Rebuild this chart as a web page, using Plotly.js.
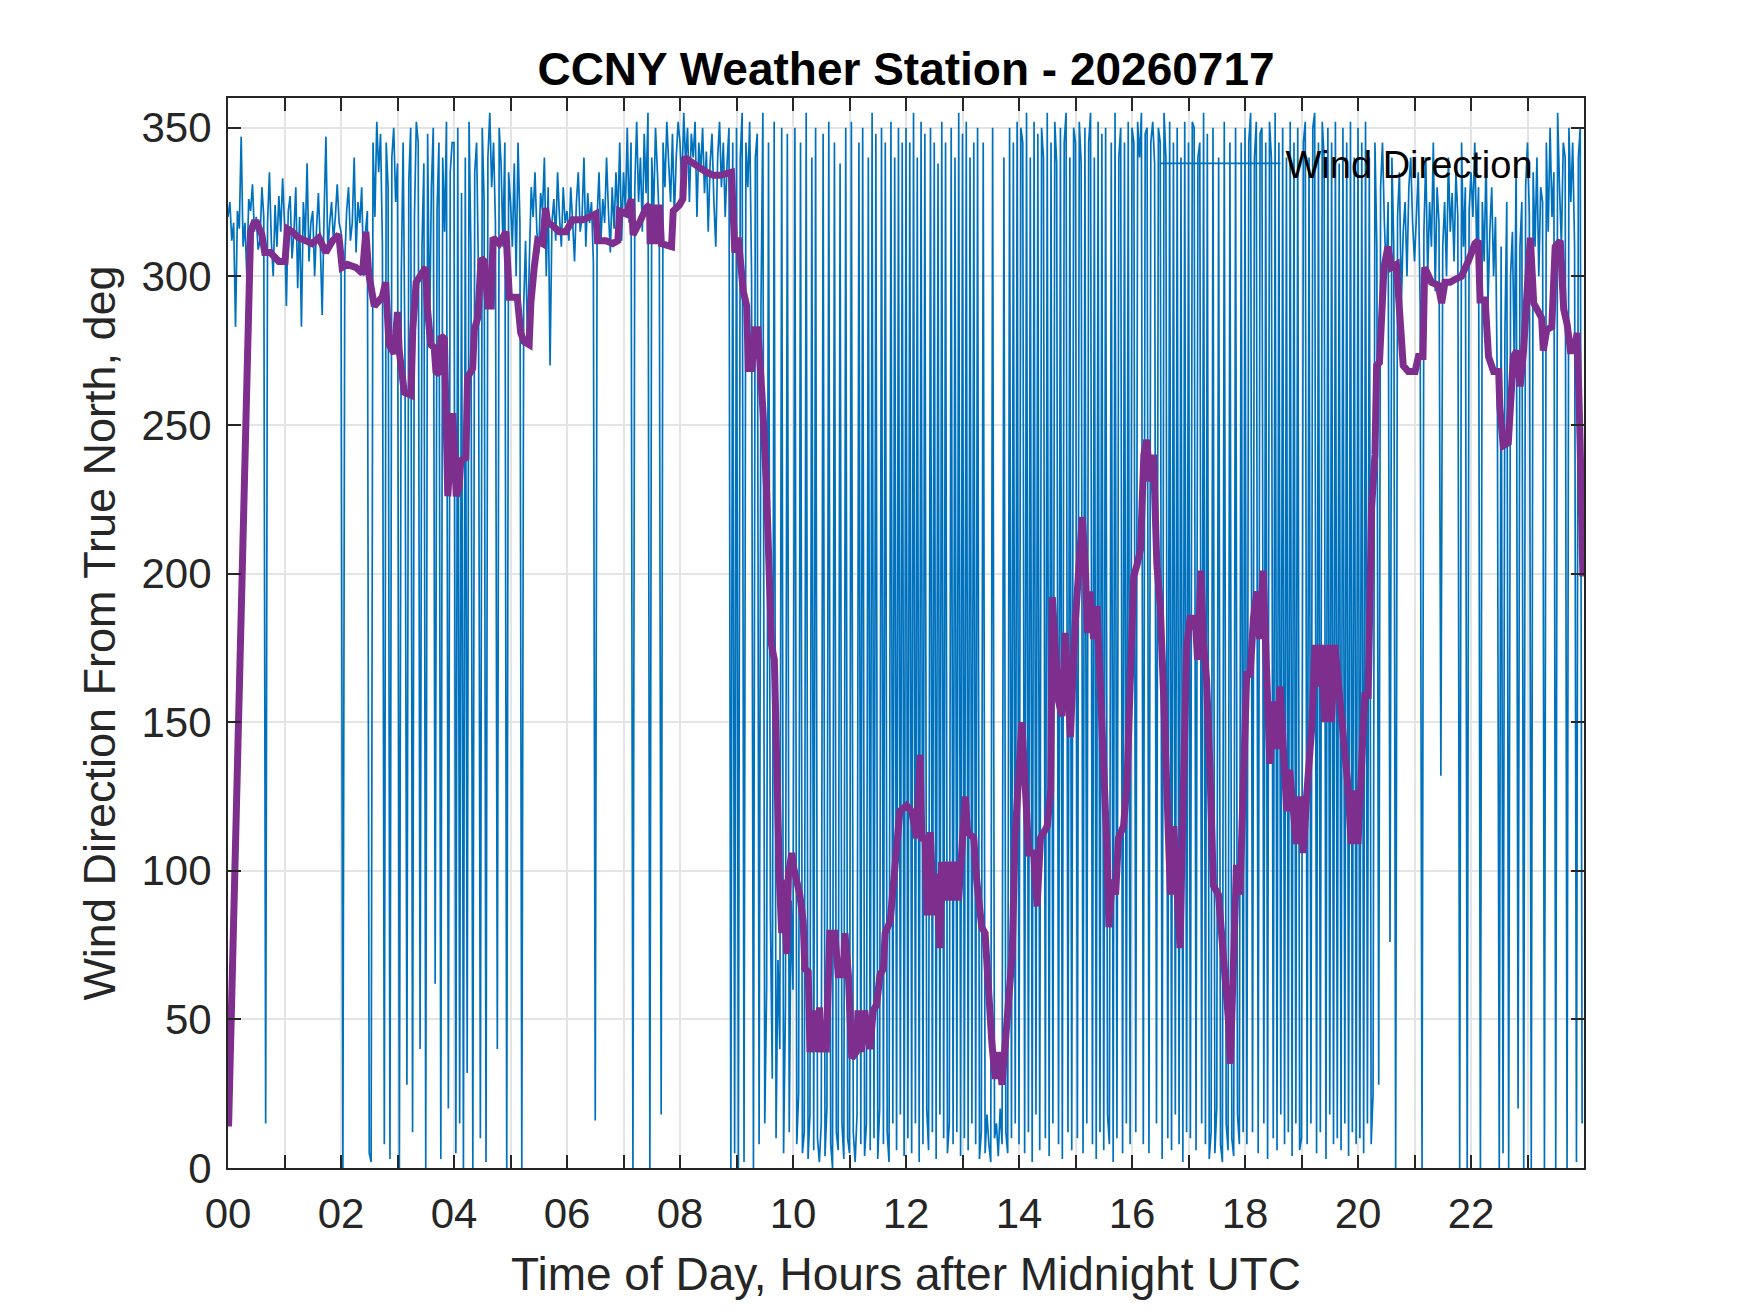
<!DOCTYPE html>
<html>
<head>
<meta charset="utf-8">
<script src="https://cdn.plot.ly/plotly-3.0.1.min.js"></script>
<style>
  html, body { margin: 0; padding: 0; background: #fff; }
  #chart { width: 1750px; height: 1313px; }
</style>
</head>
<body>
<div id="chart"></div>
<script>
// wind direction (deg from true north), one row per hour, samples every 2 minutes
var windDirByHour = [
  [320, 325, 312, 318, 283, 322, 316, 347, 310, 318, 300, 326, 322, 331, 315, 320, 309, 312, 330, 320, 15, 318, 335, 312, 300, 324, 310, 327, 315, 333],
  [318, 290, 322, 327, 306, 315, 330, 296, 320, 283, 325, 312, 338, 305, 318, 322, 300, 316, 328, 311, 287, 320, 347, 308, 318, 325, 312, 320, 331, 318],
  [315, 0, 305, 322, 330, 312, 318, 340, 308, 325, 318, 330, 300, 315, 322, 5, 2, 345, 320, 352, 335, 348, 310, 8, 345, 330, 3, 340, 350, 325],
  [338, 0, 300, 345, 270, 28, 332, 350, 12, 320, 352, 345, 40, 310, 338, 0, 348, 280, 330, 350, 62, 322, 345, 3, 340, 315, 352, 20, 335, 345],
  [345, 5, 350, 15, 328, 0, 340, 32, 352, 308, 0, 335, 345, 300, 10, 350, 325, 2, 340, 355, 330, 345, 318, 40, 350, 338, 310, 345, 0, 335],
  [325, 310, 338, 300, 345, 318, 0, 290, 312, 278, 305, 330, 320, 335, 315, 308, 328, 322, 340, 300, 330, 270, 318, 326, 312, 335, 320, 310, 330, 318],
  [322, 312, 330, 318, 305, 325, 335, 315, 320, 340, 310, 328, 318, 325, 305, 16, 320, 335, 312, 326, 318, 340, 322, 308, 330, 316, 335, 320, 345, 312],
  [335, 322, 350, 318, 345, 0, 330, 352, 325, 340, 315, 348, 328, 355, 0, 340, 322, 350, 335, 318, 18, 345, 330, 352, 338, 325, 348, 320, 340, 352],
  [345, 330, 355, 338, 350, 325, 348, 340, 352, 320, 345, 335, 350, 328, 342, 315, 338, 348, 325, 310, 340, 352, 330, 345, 320, 338, 350, 0, 345, 5],
  [350, 0, 340, 355, 2, 345, 330, 352, 300, 0, 340, 348, 8, 290, 355, 15, 60, 345, 85, 30, 352, 10, 70, 40, 350, 5, 55, 348, 12, 90],
  [60, 350, 8, 25, 345, 5, 12, 355, 3, 18, 340, 6, 350, 10, 2, 15, 348, 4, 20, 352, 8, 0, 345, 12, 6, 338, 15, 3, 350, 10],
  [5, 352, 12, 2, 18, 345, 8, 350, 4, 15, 340, 6, 355, 10, 348, 3, 20, 350, 8, 345, 12, 2, 352, 15, 340, 6, 350, 18, 345, 4],
  [350, 10, 345, 5, 355, 15, 340, 2, 352, 8, 348, 20, 6, 350, 12, 345, 3, 338, 18, 352, 10, 345, 5, 15, 350, 8, 340, 12, 355, 4],
  [348, 10, 352, 6, 340, 15, 345, 8, 350, 3, 12, 345, 5, 18, 8, 2, 350, 10, 15, 4, 20, 8, 340, 12, 5, 350, 10, 345, 15, 352],
  [8, 350, 345, 5, 355, 12, 340, 2, 352, 18, 348, 6, 350, 340, 10, 355, 4, 345, 15, 352, 338, 8, 350, 3, 345, 355, 12, 340, 6, 350],
  [345, 10, 352, 338, 5, 350, 15, 345, 355, 8, 340, 3, 352, 12, 348, 6, 350, 18, 8, 345, 2, 355, 10, 340, 350, 5, 345, 15, 352, 8],
  [350, 345, 12, 352, 340, 355, 8, 348, 350, 5, 345, 352, 338, 15, 350, 345, 3, 355, 340, 10, 352, 6, 345, 18, 350, 8, 340, 2, 352, 12],
  [345, 10, 352, 350, 6, 340, 345, 15, 355, 8, 348, 3, 12, 350, 5, 20, 340, 8, 2, 352, 15, 6, 345, 10, 4, 350, 18, 8, 345, 12],
  [350, 8, 345, 355, 12, 340, 352, 5, 348, 350, 15, 345, 3, 352, 340, 10, 355, 6, 345, 18, 350, 8, 340, 12, 352, 4, 345, 15, 350, 6],
  [10, 345, 352, 8, 340, 15, 350, 355, 5, 345, 12, 352, 340, 3, 350, 18, 345, 8, 352, 10, 338, 6, 350, 15, 345, 4, 352, 12, 340, 8],
  [350, 10, 345, 5, 352, 15, 340, 8, 25, 345, 310, 28, 330, 345, 318, 300, 325, 76, 340, 310, 0, 320, 335, 290, 315, 325, 300, 330, 340, 318],
  [305, 320, 335, 290, 0, 315, 340, 300, 325, 310, 345, 295, 330, 318, 132, 310, 325, 300, 340, 315, 328, 305, 335, 320, 0, 345, 310, 330, 0, 322],
  [335, 320, 345, 310, 330, 0, 325, 305, 340, 290, 315, 330, 300, 320, 260, 0, 310, 5, 280, 325, 0, 300, 315, 270, 340, 20, 310, 325, 0, 330],
  [345, 320, 0, 335, 310, 340, 300, 330, 325, 0, 345, 315, 350, 320, 335, 0, 355, 330, 310, 345, 340, 0, 350, 325, 345, 310, 2, 340, 350, 15]
];

// smoothed direction (purple), hours and values
var smoothHours = [
  0.01, 0.40, 0.46, 0.51, 0.60, 0.65, 0.75, 0.90,
  1.01, 1.05, 1.14, 1.25, 1.37, 1.49, 1.61, 1.73, 1.85, 1.96,
  2.02, 2.11, 2.26, 2.38, 2.44, 2.49, 2.59, 2.73, 2.79, 2.85, 2.94,
  3.00, 3.03, 3.09, 3.12, 3.24, 3.27, 3.33, 3.44, 3.50, 3.53, 3.59, 3.65, 3.68, 3.74, 3.77, 3.83, 3.86, 3.89, 3.98,
  4.04, 4.09, 4.12, 4.21, 4.24, 4.33, 4.36, 4.42, 4.48, 4.54, 4.60, 4.66, 4.69, 4.80, 4.92, 4.98,
  5.12, 5.18, 5.24, 5.33, 5.36, 5.42, 5.48, 5.57, 5.62, 5.66, 5.75, 5.86, 5.98,
  6.10, 6.28, 6.40, 6.51, 6.54, 6.69, 6.81, 6.90, 6.93,
  7.05, 7.14, 7.17, 7.28, 7.40, 7.46, 7.47, 7.55, 7.58, 7.64, 7.67, 7.85, 7.88, 7.99,
  8.05, 8.08, 8.23, 8.35, 8.47, 8.59, 8.70, 8.91, 8.94, 8.97,
  9.03, 9.09, 9.12, 9.18, 9.21, 9.27, 9.33, 9.38, 9.41, 9.47, 9.53, 9.62, 9.67, 9.71, 9.76, 9.80, 9.83, 9.89, 9.92, 9.98,
  10.00, 10.06, 10.12, 10.18, 10.21, 10.27, 10.30, 10.38, 10.44, 10.47, 10.50, 10.59, 10.65, 10.74, 10.80, 10.89, 10.92, 10.98,
  11.04, 11.12, 11.15, 11.21, 11.27, 11.36, 11.42, 11.48, 11.54, 11.60, 11.63, 11.72, 11.80, 11.89,
  12.01, 12.10, 12.19, 12.25, 12.28, 12.34, 12.37, 12.43, 12.49, 12.54, 12.60, 12.63, 12.69, 12.75, 12.81, 12.87, 12.93, 12.99,
  13.05, 13.09, 13.20, 13.25, 13.34, 13.40, 13.46, 13.52, 13.58, 13.64, 13.70, 13.76, 13.82, 13.88, 13.93, 13.99,
  14.05, 14.11, 14.17, 14.26, 14.32, 14.38, 14.44, 14.50, 14.56, 14.59, 14.64, 14.70, 14.76, 14.82, 14.88, 14.91, 14.99,
  15.06, 15.12, 15.18, 15.21, 15.26, 15.32, 15.38, 15.44, 15.50, 15.56, 15.59, 15.65, 15.71, 15.76, 15.85, 15.91, 15.97,
  16.03, 16.09, 16.15, 16.21, 16.26, 16.32, 16.38, 16.44, 16.50, 16.56, 16.62, 16.68, 16.74, 16.79, 16.85, 16.91, 16.97,
  17.03, 17.12, 17.16, 17.22, 17.26, 17.32, 17.38, 17.44, 17.53, 17.59, 17.65, 17.71, 17.74, 17.79, 17.85, 17.91, 17.97,
  18.03, 18.09, 18.15, 18.21, 18.26, 18.32, 18.38, 18.44, 18.50, 18.56, 18.62, 18.68, 18.74, 18.79, 18.85, 18.91, 18.97,
  19.03, 19.09, 19.18, 19.24, 19.29, 19.35, 19.41, 19.47, 19.53, 19.59, 19.65, 19.71, 19.76, 19.82, 19.88, 19.94,
  20.00, 20.06, 20.12, 20.18, 20.24, 20.30, 20.33, 20.38, 20.41, 20.46, 20.53, 20.59, 20.68, 20.74, 20.80, 20.89,
  21.01, 21.07, 21.15, 21.18, 21.30, 21.42, 21.48, 21.54, 21.63, 21.72, 21.83, 21.95,
  22.07, 22.13, 22.16, 22.25, 22.31, 22.40, 22.49, 22.51, 22.57, 22.66, 22.69, 22.75, 22.81, 22.87, 22.93, 22.99,
  23.05, 23.11, 23.17, 23.25, 23.28, 23.34, 23.43, 23.49, 23.58, 23.64, 23.70, 23.76, 23.82, 23.88, 23.93, 23.98
];
var smoothDir = [
  14, 315, 318, 318, 314, 308, 308, 305,
  305, 316, 315, 313, 312, 311, 313, 308, 312, 314,
  303, 304, 303, 301, 315, 301, 290, 293, 298, 277, 274,
  288, 275, 268, 261, 260, 282, 298, 301, 303, 289, 277, 276, 268, 267, 280, 279, 250, 226, 254,
  226, 229, 238, 239, 266, 269, 282, 286, 306, 305, 290, 290, 313, 311, 315, 293,
  293, 281, 278, 277, 291, 303, 312, 311, 323, 318, 317, 315, 315,
  319, 319, 320, 321, 312, 312, 311, 312, 322,
  321, 326, 314, 318, 323, 324, 312, 312, 323, 323, 311, 310, 322, 324,
  326, 340, 338, 337, 335, 334, 334, 335, 323, 308,
  313, 296, 295, 290, 269, 269, 282, 282, 268, 254, 229, 176, 171, 127, 97, 79, 97, 72, 99, 106,
  102, 97, 92, 83, 67, 66, 39, 53, 39, 54, 40, 40, 79, 79, 65, 65, 79, 65,
  37, 39, 53, 39, 53, 40, 53, 55, 65, 67, 79, 83, 99, 120,
  122, 120, 111, 139, 111, 111, 85, 113, 85, 99, 74, 103, 90, 103, 90, 103, 90, 106,
  125, 113, 111, 97, 81, 79, 55, 42, 30, 39, 28, 42, 58, 72, 111, 134,
  150, 129, 106, 106, 88, 111, 113, 115, 127, 192, 176, 157, 152, 180, 157, 145, 182,
  199, 219, 199, 180, 194, 178, 189, 152, 134, 106, 81, 97, 92, 111, 115, 129, 162,
  199, 203, 208, 240, 245, 231, 240, 203, 189, 159, 129, 92, 115, 92, 74, 129, 176,
  185, 185, 171, 201, 178, 164, 134, 95, 92, 79, 60, 49, 35, 69, 102, 92, 122,
  166, 166, 185, 194, 178, 201, 162, 136, 157, 141, 162, 134, 120, 134, 120, 109, 125,
  106, 125, 148, 176, 162, 176, 150, 176, 150, 176, 164, 148, 136, 129, 109, 127,
  109, 129, 159, 159, 222, 240, 270, 271, 282, 303, 310, 303, 304, 289, 270, 268,
  268, 273, 273, 303, 298, 297, 291, 298, 298, 299, 300, 305,
  311, 312, 292, 292, 273, 268, 268, 256, 243, 244, 258, 273, 275, 263, 275, 296,
  313, 291, 289, 286, 275, 282, 283, 310, 312, 289, 284, 275, 275, 281, 245, 199
];

var hourTicks = [0, 1, 2, 3, 4, 5, 6, 7, 8, 9, 10, 11, 12, 13, 14, 15, 16, 17, 18, 19, 20, 21, 22, 23];
var hourLabels = ['00', '', '02', '', '04', '', '06', '', '08', '', '10', '', '12', '', '14', '', '16', '', '18', '', '20', '', '22', ''];
var dirTicks = [0, 50, 100, 150, 200, 250, 300, 350];

// sample times from the hourly rows
var rawHours = [];
var rawDir = [];
for (var h = 0; h < windDirByHour.length; h++) {
  var row = windDirByHour[h];
  for (var j = 0; j < row.length; j++) {
    rawHours.push(h + j / row.length);
    rawDir.push(row[j]);
  }
}

var axisColor = '#262626';
var gridColor = '#e4e4e4';
var fontFam = '"Liberation Sans", Arial, Helvetica, sans-serif';

var data = [
  {
    x: rawHours,
    y: rawDir,
    type: 'scatter',
    mode: 'lines',
    name: 'Wind Direction',
    line: { color: '#0072BD', width: 1.7, simplify: false },
    hoverinfo: 'skip'
  },
  {
    x: smoothHours,
    y: smoothDir,
    type: 'scatter',
    mode: 'lines',
    name: 'smoothed',
    showlegend: false,
    line: { color: '#7E2F8E', width: 7 },
    hoverinfo: 'skip'
  }
];

var layout = {
  width: 1750,
  height: 1313,
  paper_bgcolor: '#ffffff',
  plot_bgcolor: '#ffffff',
  margin: { l: 228, r: 166, t: 98, b: 145 },
  font: { family: fontFam, size: 42, color: axisColor },
  title: {
    text: '<b>CCNY Weather Station - 20260717</b>',
    font: { family: fontFam, size: 46, color: '#000000' },
    xref: 'paper',
    x: 0.5,
    xanchor: 'center',
    yref: 'container',
    y: 1 - 69 / 1313,
    yanchor: 'middle'
  },
  showlegend: true,
  legend: {
    xref: 'paper',
    yref: 'paper',
    x: 0.684,
    xanchor: 'left',
    y: 0.968,
    yanchor: 'top',
    bgcolor: 'rgba(0,0,0,0)',
    borderwidth: 0,
    font: { family: fontFam, size: 38, color: '#000000' },
    itemwidth: 120
  },
  xaxis: {
    range: [0, 24],
    tickmode: 'array',
    tickvals: hourTicks,
    ticktext: hourLabels,
    ticks: 'inside',
    ticklen: 13,
    tickwidth: 2,
    tickcolor: axisColor,
    showline: true,
    linecolor: axisColor,
    linewidth: 2,
    mirror: 'allticks',
    showgrid: true,
    gridcolor: gridColor,
    gridwidth: 2,
    zeroline: false,
    ticklabelstandoff: 8,
    tickfont: { family: fontFam, size: 42, color: axisColor },
    title: {
      text: 'Time of Day, Hours after Midnight UTC',
      font: { family: fontFam, size: 46, color: axisColor },
      standoff: 21
    }
  },
  yaxis: {
    range: [0, 360],
    tickmode: 'array',
    tickvals: dirTicks,
    ticks: 'inside',
    ticklen: 13,
    tickwidth: 2,
    tickcolor: axisColor,
    showline: true,
    linecolor: axisColor,
    linewidth: 2,
    mirror: 'allticks',
    showgrid: true,
    gridcolor: gridColor,
    gridwidth: 2,
    zeroline: false,
    ticklabelstandoff: 6,
    tickfont: { family: fontFam, size: 42, color: axisColor },
    title: {
      text: 'Wind Direction From True North, deg',
      font: { family: fontFam, size: 45, color: axisColor },
      standoff: 12
    }
  }
};

Plotly.newPlot('chart', data, layout, { displayModeBar: false, staticPlot: true });
</script>
</body>
</html>
